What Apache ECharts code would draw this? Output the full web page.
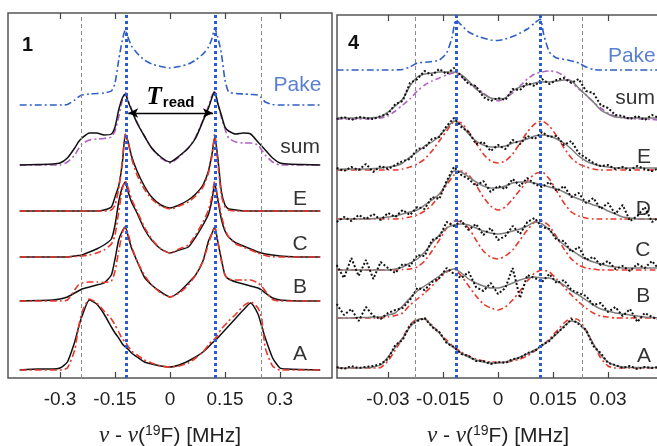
<!DOCTYPE html>
<html>
<head>
    <meta charset="utf-8">
    <title>19F ENDOR spectra</title>
    <script src="https://cdn.jsdelivr.net/npm/echarts@6/dist/echarts.min.js"></script>
    <style>
        html, body { margin: 0; padding: 0; background: #fff; }
        #main { width: 657px; height: 446px; }
    </style>
</head>
<body>
<div id="main"></div>
<script type="text/javascript">

    // ---------- panel 1 (left), x in MHz, y = height above each trace's own baseline
    var xL = [-0.41, -0.36, -0.32, -0.30, -0.28, -0.26, -0.25, -0.24, -0.22, -0.20, -0.18, -0.16, -0.15, -0.14, -0.13, -0.122, -0.115, -0.105, -0.09, -0.07, -0.05, -0.025,
        0,
        0.025, 0.05, 0.07, 0.09, 0.105, 0.115, 0.122, 0.13, 0.14, 0.15, 0.16, 0.18, 0.20, 0.22, 0.24, 0.25, 0.26, 0.28, 0.30, 0.32, 0.36, 0.41];

    var pakeL = [0, 0, 0, 0, 0.5, 5, 8, 10, 11, 11.5, 12, 14, 22, 45, 65, 75, 68, 59, 52, 45, 41, 38.5,
        37,
        38.5, 41, 45, 51, 58, 67, 77, 68, 52, 25, 13, 11.5, 11, 10.5, 10, 7, 3, 0.5, 0, 0, 0, 0];
    var sumL = [0, 0.5, 1, 2, 7, 17, 23, 27, 32, 32, 30, 31, 38, 55, 67, 71, 64, 55, 42, 29, 17, 8,
        3,
        9, 17, 27, 44, 57, 68, 73, 62, 50, 38, 34, 31, 32, 31, 23, 19, 15, 7, 2, 1, 0.5, 0];
    var sumFitL = [0, 0, 0, 0, 3, 10, 16, 21, 25, 26, 26.5, 28, 34, 48, 65, 73, 66, 56, 43, 29, 17, 7,
        2,
        8, 17, 28, 45, 59, 70, 74, 62, 48, 36, 27, 23, 22, 22, 20, 15, 10, 3, 0, 0, 0, 0];
    var eL = [0, 0, 0, 0, 0, 0, 0, 0, 0, 0, 1, 4, 14, 25, 48, 76, 70, 55, 40, 25, 14, 6,
        3,
        6, 11, 17, 26, 40, 58, 74, 55, 20, 6, 2, 1, 0, 0, 0, 0, 0, 0, 0, 0, 0, 0];
    var eFitL = [0, 0, 0, 0, 0, 0, 0, 0, 0, 0, 0, 1, 6, 22, 50, 77, 70, 53, 36, 22, 12, 5,
        2,
        5, 9, 15, 24, 38, 56, 77, 50, 16, 4, 1, 0, 0, 0, 0, 0, 0, 0, 0, 0, 0, 0];
    var cL = [0, 0, 0, 0, 0, 1, 1.5, 2, 5, 8, 12, 18, 32, 55, 70, 75, 66, 55, 44, 28, 17, 8,
        4,
        7, 10, 20, 32, 43, 58, 74, 58, 38, 26, 20, 14, 11, 8, 5, 4, 3, 2, 1, 0.5, 0, 0];
    var cFitL = [0, 0, 0, 0, 0, 0.5, 0.7, 1, 2, 4, 7, 13, 22, 45, 68, 76, 70, 58, 46, 30, 18, 8,
        4,
        8, 12, 22, 35, 47, 62, 76, 60, 42, 28, 20, 13, 10, 7, 4, 3, 1.5, 0.3, 0, 0, 0, 0];
    var bL = [0, 0.5, 1, 2, 4, 8, 10, 12, 14, 16, 18, 26, 42, 61, 70, 74, 66, 53, 40, 24, 16, 9,
        4,
        9, 18, 26, 40, 60, 68, 74, 60, 42, 26, 22, 19, 17, 15, 13, 11, 8, 3, 1, 0.5, 0, 0];
    var bFitL = [0, 0, 0, 0, 1, 11, 16, 18, 19, 19, 18.5, 20, 30, 50, 68, 74, 68, 55, 40, 26, 16, 8,
        4,
        8, 16, 26, 40, 57, 68, 74, 60, 40, 26, 22, 21, 21, 21, 18, 15, 10, 1.5, 0, 0, 0, 0];
    var aL = [0, 1, 1, 2, 8, 28, 42, 54, 70, 66, 56, 43, 37, 32, 26, 23, 21, 17, 13, 8, 6, 4,
        3,
        5, 9, 13, 18, 23, 27, 29, 32, 36, 40, 44, 52, 60, 67, 56, 44, 32, 12, 2, 1, 0.5, 0];
    var aFitL = [0, 0, 0, 0, 2, 20, 42, 58, 71, 67, 59, 51, 45, 38, 31, 28, 24, 19, 15, 10, 7, 4,
        3,
        4, 7, 12, 18, 25, 29, 31, 35, 41, 45, 49, 56, 64, 68, 62, 52, 22, 4, 0, 0, 0, 0];

    // baselines of the stacked traces (Pake, sum, E, C, B, A)
    var baseL = [273, 213, 167, 121, 77, 8];
    var tagsL = ['Pake', 'sum', 'E', 'C', 'B', 'A'];
    var tagXL = [0.348, 0.355, 0.355, 0.355, 0.355, 0.355];
    var tagLiftL = [20, 18, 12, 13, 14, 16];
    var ticksL = [-0.3, -0.15, 0, 0.15, 0.3];
    var pakeLinesL = [-0.243, 0.25];
    var peakLinesL = [-0.12, 0.123];
    var treadL = [-0.114, 0.117, 265];

    // ---------- panel 4 (right)
    var xR = [-0.044, -0.042, -0.040, -0.038, -0.036, -0.034, -0.032, -0.030, -0.028, -0.026, -0.024, -0.022, -0.020, -0.018, -0.016, -0.014, -0.012, -0.010, -0.008, -0.006, -0.004, -0.002,
        0,
        0.002, 0.004, 0.006, 0.008, 0.010, 0.012, 0.014, 0.016, 0.018, 0.020, 0.022, 0.024, 0.026, 0.028, 0.030, 0.032, 0.034, 0.036, 0.038, 0.040, 0.042, 0.044];

    var pakeRx = [-0.044, -0.030, -0.026, -0.024, -0.022, -0.019, -0.016, -0.014, -0.0125, -0.0115, -0.010, -0.008, -0.005, -0.002, 0,
        0.002, 0.005, 0.008, 0.010, 0.0115, 0.0125, 0.014, 0.016, 0.019, 0.022, 0.024, 0.026, 0.028, 0.044];
    var pakeR = [0, 0, 0.5, 3, 7, 8, 10, 17, 33, 50, 45, 38, 33, 30, 29.5,
        31, 35, 41, 47, 51, 35, 18, 12, 10, 7, 3, 0.5, 0, 0];

    var sumGrayR = [1, 1, 1, 1, 1, 1.5, 2, 7, 13, 20, 33, 42, 45, 46, 47, 47, 47, 44, 38, 30, 25, 21, 20,
        21, 28, 32, 34, 36, 37, 37, 38, 39, 38, 31, 24, 17, 9, 5, 2, 1.5, 1, 1, 1, 1, 1];
    var sumDotR = [0, 2, -1, 2, 1, 0, 3, 5, 15, 18, 36, 40, 48, 44, 50, 45, 51, 43, 35, 33, 22, 18, 21,
        19, 30, 29, 36, 33, 40, 35, 39, 41, 36, 40, 28, 26, 14, 11, 4, 3, 0, 3, -1, 4, 1];
    var sumFitR = [0, 0, 0, 0, 0, 0.5, 1, 3, 8, 14, 20, 28, 34, 38, 41, 44, 46, 42, 37, 32, 26, 21, 18,
        21, 26, 33, 40, 45, 47, 48, 47, 43, 37, 30, 24, 17, 11, 6, 3, 1, 0.5, 0, 0, -0.5, -1];

    var eGrayR = [0, 1, 1, 1, 1, 1.5, 2, 3, 4, 7, 13, 18, 24, 28, 34, 42, 49, 45, 36, 29, 25, 23, 23,
        24, 27, 29, 31, 34, 35, 34, 31, 27, 21, 14, 9, 6, 4, 3, 2, 2, 2, 2, 2, 2, 2];
    var eDotR = [2, -1, 3, 0, 6, -2, 4, 1, 5, 9, 11, 21, 22, 31, 33, 44, 52, 43, 38, 26, 28, 19, 25,
        21, 30, 26, 34, 31, 38, 33, 34, 25, 29, 17, 12, 7, 4, 5, 1, 3, 0, 4, 1, -1, 2];
    var eFitR = [0, 0, 0, 0, 0, 0, 0, 0, 0, 1, 3, 6, 11, 19, 29, 39, 48, 47, 38, 27, 16, 9, 7,
        9, 16, 27, 38, 46, 49, 44, 34, 22, 12, 6, 3, 1, 0, 0, 0, 0, 0, 0, 0, 0, 0];

    var dGrayR = [-1, 0, 0, 0, 0, 0.5, 1, 2, 3, 5, 7, 9, 14, 19, 25, 36, 48, 47, 42, 37, 33, 31, 31,
        33, 36, 37, 37, 36, 34, 32, 30, 27, 23, 20, 17, 14, 12, 8, 5, 2, 1, 0, 0, 0, -1];
    var dDotR = [-3, 2, -2, 4, 0, 5, -1, 6, 2, 9, 4, 12, 10, 22, 20, 38, 52, 44, 40, 33, 38, 27, 33,
        30, 40, 33, 41, 35, 32, 37, 28, 33, 22, 26, 16, 21, 10, 16, 5, 14, -2, 3, 12, -3, 2];
    var dFitR = [0, 0, 0, 0, 0, 0, 0, 0, 0, 0.5, 2, 4, 8, 14, 24, 34, 44, 48, 44, 34, 22, 13, 9,
        12, 20, 29, 38, 45, 47, 40, 28, 16, 7, 3, 1, 0, 0, 0, 0, 0, 0, 0, 0, 0, 0];

    var cGrayR = [0, 0, 0, 0, 0, 0, 0, 0, 1, 3, 7, 11, 18, 27, 35, 42, 45, 46, 45, 42, 39, 37, 36,
        37, 39, 41, 44, 48, 46, 40, 32, 25, 20, 15, 11, 8, 6, 4, 3, 2, 2, 2, 2, 2, 2];
    var cDotR = [5, -8, 12, -6, 10, -9, 8, 2, -3, 6, 4, 15, 14, 30, 33, 48, 44, 49, 40, 46, 35, 42, 30,
        34, 44, 36, 48, 52, 43, 41, 30, 29, 18, 23, 10, 13, 5, 9, 1, 4, -1, 6, 2, 9, 0];
    var cFitR = [0, 0, 0, 0, 0, 0, 0, 0, 0, 0.5, 1, 3, 9, 19, 30, 42, 49, 48, 42, 30, 19, 13, 11,
        14, 20, 30, 40, 48, 49, 44, 33, 21, 11, 5, 2, 1, 0, 0, 0, 0, 0, 0, 0, 0, 0];

    var bGrayR = [0, 0, 0, 0.5, 0.5, 1, 1, 3, 5, 12, 20, 27, 32, 37, 42, 47, 49, 45, 39, 35, 32, 30, 30,
        32, 35, 38, 40, 41, 40, 40, 37, 33, 27, 23, 18, 13, 9, 7, 5, 4, 3, 2, 1, 0.5, 0];
    var bDotR = [14, 3, 9, -3, 11, 2, -1, 5, 8, 10, 18, 30, 28, 36, 40, 50, 44, 40, 46, 31, 27, 35, 24,
        30, 50, 20, 43, 40, 36, 44, 35, 38, 28, 25, 22, 13, 15, 6, 11, 2, 9, -4, 5, 1, -2];
    var bFitR = [0, 0, 0, 0, 0, 0, 0, 1, 2.5, 5, 13, 19, 25, 32, 40, 46, 49, 42, 32, 22, 14, 10, 8,
        11, 18, 27, 37, 45, 48, 46, 39, 31, 23, 16, 10, 5, 2, 1, 0, 0, 0, 0, 0, 0, 0];

    var aGrayR = [0, 0, 0, 0, 0.5, 1, 3, 11, 21, 30, 41, 48, 49, 42, 35, 26, 20, 15, 11, 8, 6, 5, 5,
        6, 8, 11, 14, 18, 22, 28, 34, 42, 47, 45, 37, 24, 13, 6, 2.5, 1, 0.5, 0.5, 0.5, 0.5, 0];
    var aDotR = [1, -1, 2, 0, 1, 2, 4, 9, 23, 28, 43, 47, 50, 41, 36, 25, 21, 14, 12, 7, 7, 4, 6,
        5, 9, 10, 15, 17, 23, 27, 35, 41, 49, 44, 38, 22, 15, 5, 3, 0, 2, -1, 1, 0, 1];
    var aFitR = [0, 0, 0, 0, 0, 0, 0.5, 7, 18, 30, 43, 49, 49, 43, 35, 28, 21, 16, 12, 9, 7, 6, 5.5,
        6, 7, 9, 12, 17, 22, 29, 37, 45, 50, 48, 38, 24, 10, 2, 0, 0, 0, 0, 0, 0, 0];

    // baselines (Pake, sum, E, D, C, B, A)
    var baseR = [308, 259, 208, 159, 108, 60, 10];
    var tagsR = ['Pake', 'sum', 'E', 'D', 'C', 'B', 'A'];
    var tagXR = [0.0365, 0.0374, 0.0398, 0.0396, 0.0395, 0.0396, 0.0398];
    var tagLiftR = [14, 21, 13, 10, 20, 22, 12];
    var ticksR = [-0.03, -0.015, 0, 0.015, 0.03];
    var pakeLinesR = [-0.0226, 0.0229];
    var peakLinesR = [-0.0115, 0.0115];

    // ---------- colours / styles
    var BLUE = '#2f5fc4';
    var RED = '#e8382b';
    var PURPLE = '#b062c2';
    var GRAY = '#7f7f7f';
    var BLACK = '#111';
    var dashDot = [7, 3, 2, 3];

    function trace(xs, ys, base) {
        return xs.map(function (x, i) { return [x, base + ys[i]]; });
    }

    function line(side, data, color, width, type, z) {
        return {
            type: 'line',
            xAxisIndex: side === 0 ? 0 : 2,
            yAxisIndex: side,
            data: data,
            symbol: 'none',
            smooth: 0.2,
            silent: true,
            z: z || 2,
            lineStyle: { color: color, width: width, type: type }
        };
    }

    function vlines(side, xs, color, width, type) {
        return {
            type: 'line',
            xAxisIndex: side === 0 ? 0 : 2,
            yAxisIndex: side,
            data: [],
            silent: true,
            z: 5,
            markLine: {
                silent: true,
                precision: 6,
                symbol: 'none',
                label: { show: false },
                lineStyle: { color: color, width: width, type: type },
                data: xs.map(function (v) { return { xAxis: v }; })
            }
        };
    }

    function tags(side, names, xs, bases, lifts) {
        return {
            type: 'scatter',
            xAxisIndex: side === 0 ? 0 : 2,
            yAxisIndex: side,
            symbolSize: 0,
            silent: true,
            z: 6,
            label: {
                show: true,
                position: 'inside',
                formatter: '{b}',
                fontFamily: 'Liberation Sans',
                fontSize: 21,
                color: '#000'
            },
            data: names.map(function (n, i) {
                var item = { name: n, value: [xs[i], bases[i] + lifts[i]] };
                if (n === 'Pake') item.label = { color: BLUE };
                return item;
            })
        };
    }

    var series = [];

    // left panel
    series.push(vlines(0, pakeLinesL, '#8a8a8a', 1, [4, 3]));
    series.push(line(0, trace(xL, pakeL, baseL[0]), BLUE, 1.6, dashDot));
    var sumSeries = line(0, trace(xL, sumL, baseL[1]), BLACK, 1.5, 'solid', 3);
    sumSeries.markLine = {
        silent: true,
        precision: 6,
        symbol: ['arrow', 'arrow'],
        symbolSize: [7, 10],
        lineStyle: { color: '#000', width: 1.3, type: 'solid' },
        label: {
            show: true,
            position: 'insideMiddleTop',
            distance: 3,
            formatter: '{t|T}{r|read}',
            rich: {
                t: { fontFamily: 'Liberation Serif', fontStyle: 'italic', fontWeight: 'bold', fontSize: 25, color: '#000' },
                r: { fontFamily: 'Liberation Sans', fontWeight: 'bold', fontSize: 15, color: '#000', padding: [10, 0, 0, 1] }
            }
        },
        data: [[{ coord: [treadL[0], treadL[2]] }, { coord: [treadL[1], treadL[2]] }]]
    };
    series.push(line(0, trace(xL, sumFitL, baseL[1]), PURPLE, 1.6, dashDot));
    series.push(sumSeries);
    var leftPairs = [[eL, eFitL, 2], [cL, cFitL, 3], [bL, bFitL, 4], [aL, aFitL, 5]];
    leftPairs.forEach(function (p) {
        series.push(line(0, trace(xL, p[0], baseL[p[2]]), BLACK, 1.5, 'solid', 3));
        series.push(line(0, trace(xL, p[1], baseL[p[2]]), RED, 1.6, dashDot, 4));
    });
    series.push(vlines(0, peakLinesL, '#2a5bd6', 3, [3, 3]));
    series.push(tags(0, tagsL, tagXL, baseL, tagLiftL));

    // right panel
    series.push(vlines(1, pakeLinesR, '#8a8a8a', 1, [4, 3]));
    series.push(line(1, trace(pakeRx, pakeR, baseR[0]), BLUE, 1.6, dashDot));
    var rightSets = [
        [sumGrayR, sumDotR, sumFitR, 1, PURPLE],
        [eGrayR, eDotR, eFitR, 2, RED],
        [dGrayR, dDotR, dFitR, 3, RED],
        [cGrayR, cDotR, cFitR, 4, RED],
        [bGrayR, bDotR, bFitR, 5, RED],
        [aGrayR, aDotR, aFitR, 6, RED]
    ];
    rightSets.forEach(function (s) {
        var b = baseR[s[3]];
        series.push(line(1, trace(xR, s[2], b), s[4], 1.6, [6, 3, 2, 3], 2));
        series.push(line(1, trace(xR, s[0], b), GRAY, 1.5, 'solid', 3));
        var dots = line(1, trace(xR, s[1], b), BLACK, 2, [2, 2], 4);
        dots.smooth = false;
        series.push(dots);
    });
    series.push(vlines(1, peakLinesR, '#2a5bd6', 3, [3, 3]));
    series.push(tags(1, tagsR, tagXR, baseR, tagLiftR));

    var axisName = '{i|ν} - {i|ν}({s|19}F) [MHz]';
    var nameStyle = {
        fontFamily: 'Liberation Sans',
        fontSize: 21,
        color: '#222',
        rich: {
            i: { fontFamily: 'Liberation Serif', fontStyle: 'italic', fontSize: 23, color: '#222' },
            s: { fontFamily: 'Liberation Sans', fontSize: 14, color: '#222', padding: [0, 0, 10, 0] }
        }
    };

    function bottomAxis(grid, min, max, ticks) {
        return {
            gridIndex: grid, type: 'value', min: min, max: max, position: 'bottom',
            axisLine: { show: false },
            splitLine: { show: false },
            axisTick: { inside: true, length: 6, customValues: ticks, lineStyle: { color: '#444', width: 1.2 } },
            axisLabel: { customValues: ticks, margin: 12, fontFamily: 'Liberation Sans', fontSize: 19, color: '#222' },
            name: axisName,
            nameLocation: 'middle',
            nameGap: 46,
            nameMoveOverlap: false,
            nameTextStyle: nameStyle
        };
    }
    function topAxis(grid, min, max, ticks) {
        return {
            gridIndex: grid, type: 'value', min: min, max: max, position: 'top',
            axisLine: { show: false },
            splitLine: { show: false },
            axisTick: { inside: true, length: 6, customValues: ticks, lineStyle: { color: '#444', width: 1.2 } },
            axisLabel: { show: false }
        };
    }

    var option = {
        animation: false,
        backgroundColor: '#fff',
        title: [
            { text: '1', left: 17, top: 30, textStyle: { fontFamily: 'Liberation Sans', fontSize: 20, fontWeight: 'bold', color: '#111' } },
            { text: '4', left: 343, top: 28, textStyle: { fontFamily: 'Liberation Sans', fontSize: 20, fontWeight: 'bold', color: '#111' } }
        ],
        grid: [
            { left: 8, top: 13, width: 324, height: 365, show: true, borderColor: '#555', borderWidth: 1.5, containLabel: false, outerBoundsMode: 'none' },
            { left: 337, top: 15, width: 322, height: 363, show: true, borderColor: '#555', borderWidth: 1.5, containLabel: false, outerBoundsMode: 'none' }
        ],
        xAxis: [
            bottomAxis(0, -0.442, 0.442, ticksL),
            topAxis(0, -0.442, 0.442, ticksL),
            bottomAxis(1, -0.0439, 0.0439, ticksR),
            topAxis(1, -0.0439, 0.0439, ticksR)
        ],
        yAxis: [
            { gridIndex: 0, type: 'value', min: 0, max: 365, show: false },
            { gridIndex: 1, type: 'value', min: 0, max: 363, show: false }
        ],
        series: series
    };

    var myChart = echarts.init(document.getElementById('main'), null, { renderer: 'canvas' });
    myChart.setOption(option);
</script>
</body>
</html>
